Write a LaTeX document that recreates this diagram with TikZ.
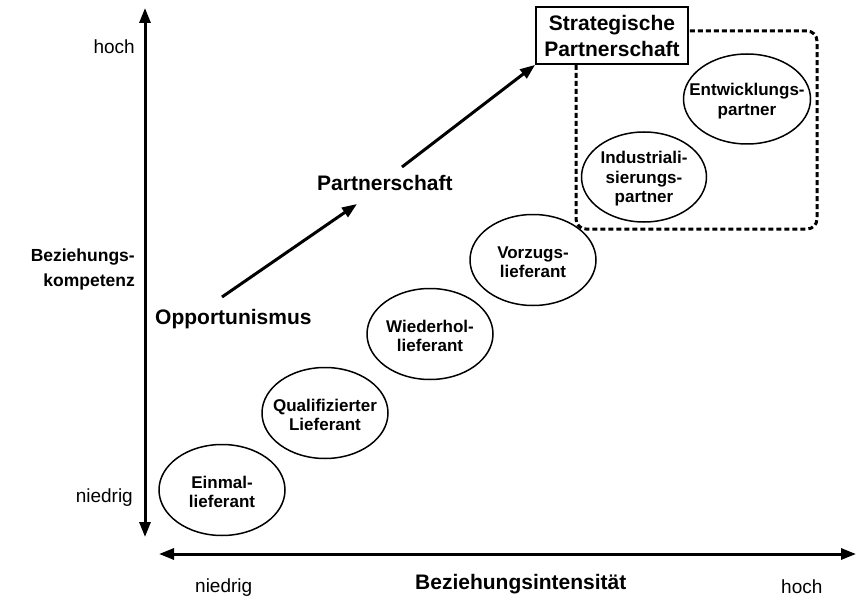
\documentclass[tikz,border=0pt]{standalone}
\usepackage{fontspec}
\setmainfont{Liberation Sans}
\usetikzlibrary{arrows.meta,shapes.geometric}
\begin{document}
\begin{tikzpicture}[x=1pt,y=-1pt,
 ell/.style={draw, ellipse, line width=1.5pt, minimum width=126pt, minimum height=91pt, inner sep=0pt},
 etext/.style={font=\fontsize{17}{19.5}\selectfont\bfseries, align=center, inner sep=0pt, yshift=-2pt},
 big/.style={font=\fontsize{21}{26}\selectfont\bfseries, inner sep=0pt},
 mid/.style={font=\fontsize{17.5}{25}\selectfont\bfseries, inner sep=0pt},
 tick/.style={font=\fontsize{19}{22}\selectfont, inner sep=0pt},
 axis/.style={line width=3pt, {Triangle[length=15pt,width=11pt]}-{Triangle[length=15pt,width=11pt]}},
 arr/.style={line width=3pt, -{Triangle[length=15pt,width=11pt]}},
 dashbox/.style={line width=3pt, dash pattern=on 5pt off 3pt, rounded corners=10pt}
]
\useasboundingbox (0,0) rectangle (857,599);
% axes
\coordinate (ytop) at (145,8);
\coordinate (ybot) at (145,537);
\coordinate (xl) at (159,554);
\coordinate (xr) at (856,554);
\draw[axis] (ybot) -- (ytop);
\draw[axis] (xl) -- (xr);
% axis labels
\node[tick, anchor=base east] (yhi) at (135,54) {hoch};
\node[tick, anchor=base east] (ylo) at (133,502) {niedrig};
\node[mid, anchor=east, align=right] (ylab) at (135,269) {Beziehungs-\\kompetenz};
\node[tick, anchor=base west] (xlo) at (195,592) {niedrig};
\node[big, anchor=base west] (xlab) at (415,589) {Beziehungsintensität};
\node[tick, anchor=base west] (xhi) at (781,593) {hoch};
% dashed group box
\draw[dashbox] (576,31) rectangle (817,229);
% strategic partnership box
\node[big, draw, line width=1.8pt, fill=white, align=center, minimum width=152pt, minimum height=57pt] (sp) at (612,35.5) {Strategische\\Partnerschaft};
% stage labels
\node[big, anchor=base west] (opp) at (155,324) {Opportunismus};
\node[big, anchor=base west] (part) at (317,190) {Partnerschaft};
\coordinate (a1s) at (222,297);
\coordinate (a1e) at (357,204);
\coordinate (a2s) at (402,167);
\draw[arr] (a1s) -- (a1e);
\draw[arr] (a2s) -- (sp.south west);
% ellipses
\node[ell] (e1) at (222,490) {};
\node[etext] at (e1) {Einmal-\\lieferant};
\node[ell] (e2) at (325,413) {};
\node[etext] at (e2) {Qualifizierter\\Lieferant};
\node[ell] (e3) at (430,334) {};
\node[etext] at (e3) {Wiederhol-\\lieferant};
\node[ell] (e4) at (533,260) {};
\node[etext] at (e4) {Vorzugs-\\lieferant};
\node[ell, minimum width=125pt, minimum height=90pt] (e5) at (644,177) {};
\node[etext] at (e5) {Industriali-\\sierungs-\\partner};
\node[ell, minimum width=127pt, minimum height=90pt] (e6) at (747,99) {};
\node[etext] at (e6) {Entwicklungs-\\partner};
\end{tikzpicture}
\end{document}
